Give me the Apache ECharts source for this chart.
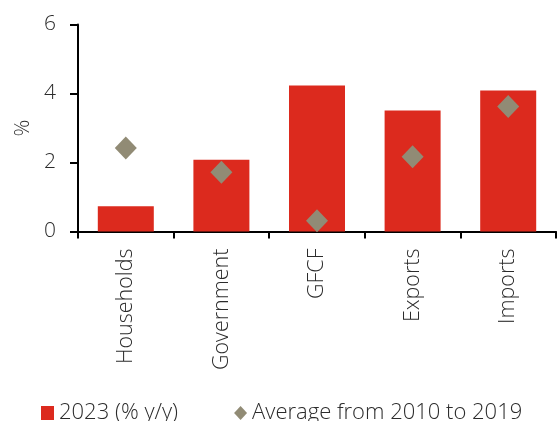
<!DOCTYPE html>
<html>
<head>
<meta charset="utf-8">
<script src="https://cdn.jsdelivr.net/npm/echarts@6/dist/echarts.min.js"></script>
<style>
html,body{margin:0;padding:0;background:#fff;}
#chart{width:557px;height:421px;}
</style>
</head>
<body>
<div id="chart"></div>
<script>
const categories = ['Households', 'Government', 'GFCF', 'Exports', 'Imports'];
const values2023 = [0.73, 2.08, 4.23, 3.51, 4.09];
const average2010to2019 = [2.42, 1.72, 0.31, 2.17, 3.62];
const yTicks = [0, 2, 4, 6];

const FONT = 'Open Sans';
const W = 300;
const TXT = '#2b2b2b';
const chart = echarts.init(document.getElementById('chart'), null, {renderer: 'canvas'});
chart.setOption({
  animation: false,
  textStyle: {fontFamily: FONT, color: TXT, fontWeight: W},
  grid: {left: 78, right: 1, top: 24.5, bottom: 189.5, containLabel: false},
  legend: {
    left: 36, top: 397,
    itemWidth: 13, itemHeight: 14, itemGap: 56,
    textStyle: {fontFamily: FONT, fontSize: 22, color: TXT, fontWeight: W},
    data: [
      {name: '2023 (% y/y)', icon: 'rect'},
      {name: 'Average from 2010 to 2019', icon: 'diamond'}
    ]
  },
  xAxis: {
    type: 'category',
    data: categories,
    boundaryGap: true,
    axisLine: {show: true, lineStyle: {color: '#000', width: 2}},
    axisTick: {show: true, length: 7, lineStyle: {color: '#000', width: 2}},
    axisLabel: {rotate: 90, fontSize: 21.5, color: TXT, margin: 17, fontFamily: FONT, fontWeight: W, interval: 0}
  },
  yAxis: {
    type: 'value',
    min: yTicks[0], max: yTicks[yTicks.length - 1], interval: 2,
    name: '%',
    nameLocation: 'middle',
    nameRotate: 90,
    nameGap: 43,
    nameTextStyle: {fontSize: 21, color: TXT, fontFamily: FONT, fontWeight: W},
    axisLine: {show: true, lineStyle: {color: '#000', width: 2}},
    axisTick: {show: true, length: 8, lineStyle: {color: '#000', width: 2}},
    axisLabel: {fontSize: 21, color: TXT, margin: 22, fontFamily: FONT, fontWeight: W},
    splitLine: {show: false}
  },
  series: [
    {
      name: '2023 (% y/y)',
      type: 'bar',
      data: values2023,
      barWidth: 56,
      itemStyle: {color: '#dc2a1e'},
      z: 2
    },
    {
      name: 'Average from 2010 to 2019',
      type: 'scatter',
      data: average2010to2019,
      symbol: 'diamond',
      symbolSize: [22, 23],
      itemStyle: {color: '#918b75', opacity: 1},
      z: 3
    }
  ]
});
</script>
</body>
</html>
